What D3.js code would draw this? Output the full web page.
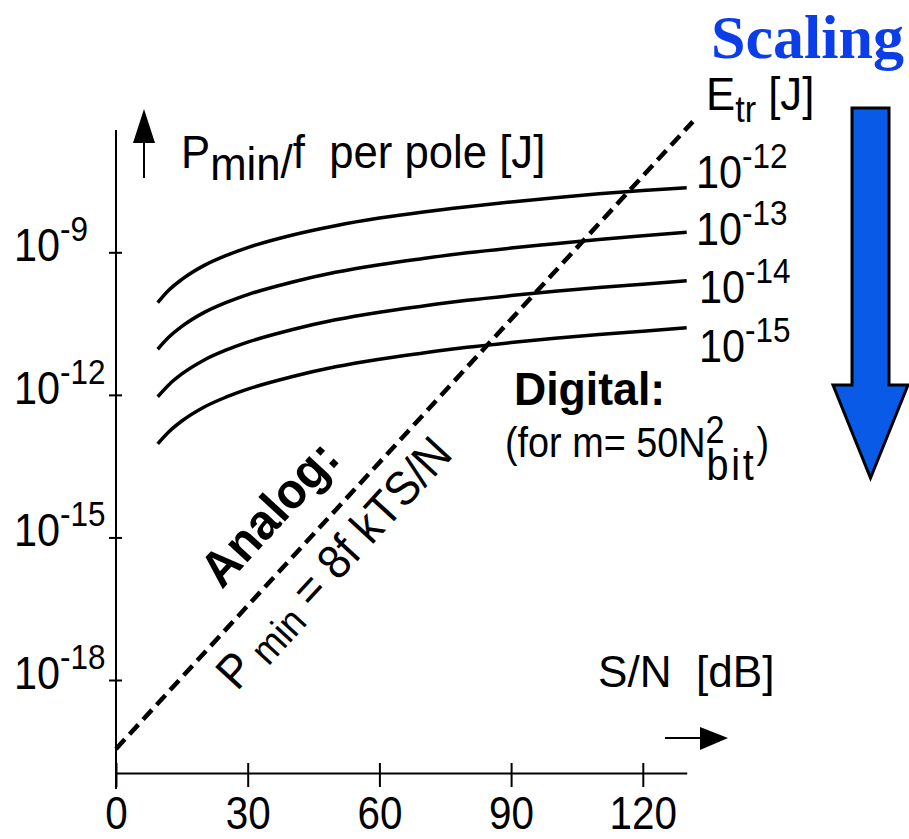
<!DOCTYPE html>
<html><head><meta charset="utf-8">
<script src="https://cdn.jsdelivr.net/npm/d3@7"></script>
<style>
body{margin:0;background:#fff}
text{font-family:"Liberation Sans",Arial,sans-serif;white-space:pre;fill:#000}
</style>
</head><body>
<svg id="c" width="909" height="839"></svg>
<script>
// ---------- data ----------
const snrDb   = [9.5, 12, 15, 20, 25, 30, 40, 50, 60, 70, 80, 90, 100, 110, 120, 130];
// log10 of Pmin/f per pole [J] for each transistor switching energy
const etr1e12 = [-10.06, -9.80, -9.57, -9.28, -9.07, -8.90, -8.64, -8.44, -8.28, -8.15, -8.04, -7.94, -7.85, -7.77, -7.70, -7.64];
const etr1e13 = [-11.04, -10.79, -10.56, -10.27, -10.06, -9.89, -9.63, -9.42, -9.26, -9.13, -9.01, -8.91, -8.82, -8.73, -8.65, -8.58];
const etr1e14 = [-12.04, -11.79, -11.56, -11.27, -11.06, -10.89, -10.63, -10.42, -10.26, -10.13, -10.01, -9.91, -9.82, -9.74, -9.67, -9.60];
const etr1e15 = [-13.03, -12.78, -12.55, -12.26, -12.05, -11.88, -11.62, -11.41, -11.25, -11.12, -11.00, -10.90, -10.81, -10.73, -10.66, -10.59];
const etrExponents = ["-12", "-13", "-14", "-15"];
// analog limit line (log10 J)
const analogDb  = [0, 131.4];
const analogLog = [-19.45, -6.25];
const xTicks = [0, 30, 60, 90, 120];
const yTickExp = [-9, -12, -15, -18];

// ---------- scales ----------
const svg = d3.select("#c");
const x = d3.scaleLinear().domain([0, 130]).range([116, 116 + 130 * 4.39]);
const y = d3.scaleLog().domain([1e-9, 1e-18]).range([252.3, 680]);
const SX = 0.9;

// ---------- axes ----------
const xAxisY = 773;
const gx = svg.append("g").attr("transform", `translate(0,${xAxisY})`)
  .call(d3.axisBottom(x).tickValues(xTicks).tickSizeOuter(0).tickFormat(""));
gx.select(".domain").attr("stroke", "#000").attr("stroke-width", 2);
gx.selectAll(".tick line").attr("y1", -10).attr("y2", 14).attr("stroke", "#000").attr("stroke-width", 2);
gx.selectAll(".tick").append("text")
  .attr("transform", `translate(0,56) scale(0.86,1)`)
  .attr("text-anchor", "middle").style("font-size", "47px").style("fill", "#000")
  .text(d => d);

const gy = svg.append("g").attr("transform", `translate(116,0)`)
  .call(d3.axisLeft(y).tickValues(yTickExp.map(e => Math.pow(10, e))).tickSizeOuter(0).tickFormat(""));
gy.select(".domain").remove();
gy.selectAll(".tick line").attr("x1", 6).attr("x2", -7).attr("stroke", "#000").attr("stroke-width", 2);
svg.append("line").attr("x1", 116).attr("x2", 116).attr("y1", 130).attr("y2", 789)
  .attr("stroke", "#000").attr("stroke-width", 2);

function pow10Label(px, py, exp) {
  const t = svg.append("text").attr("transform", `translate(${px},${py}) scale(${SX},1)`)
    .style("font-size", "46px");
  t.append("tspan").text("10");
  t.append("tspan").attr("dy", -20).style("font-size", "35px").text(exp);
}
yTickExp.forEach(e => pow10Label(14, y(Math.pow(10, e)) + 9, String(e)));

// ---------- analog dashed line ----------
const line = d3.line().x(d => x(d[0])).y(d => y(Math.pow(10, d[1])));
svg.append("path").datum(analogDb.map((d, i) => [d, analogLog[i]]))
  .attr("d", line).attr("fill", "none").attr("stroke", "#000")
  .attr("stroke-width", 4.5).attr("stroke-dasharray", "13,7");

// ---------- digital curves ----------
const curveLine = d3.line().curve(d3.curveMonotoneX).x(d => x(d[0])).y(d => y(Math.pow(10, d[1])));
const series = [etr1e12, etr1e13, etr1e14, etr1e15];
series.forEach(s => {
  svg.append("path").datum(snrDb.map((d, i) => [d, s[i]]))
    .attr("d", curveLine).attr("fill", "none").attr("stroke", "#000").attr("stroke-width", 3.5);
});
const labelBase = [188, 245, 303, 362];
const labelX = [696, 696, 699, 699];
etrExponents.forEach((e, i) => pow10Label(labelX[i], labelBase[i], e));

// E_tr [J]
{
  const t = svg.append("text").attr("transform", `translate(706,110) scale(0.95,1)`).style("font-size", "46px");
  t.append("tspan").text("E");
  t.append("tspan").attr("dy", 12).style("font-size", "36px").text("tr");
  t.append("tspan").attr("dy", -12).text(" [J]");
}

// ---------- y label with arrow ----------
svg.append("line").attr("x1", 144).attr("x2", 144).attr("y1", 178).attr("y2", 140)
  .attr("stroke", "#000").attr("stroke-width", 2);
svg.append("path").attr("d", d3.line()([[144, 109], [155, 143], [133, 143]]) + "Z").attr("fill", "#000");
{
  const t = svg.append("text").attr("transform", `translate(181,168) scale(0.95,1)`).style("font-size", "46px");
  t.append("tspan").text("P");
  t.append("tspan").attr("dy", 12).text("min");
  t.append("tspan").attr("dy", -2).text("/");
  t.append("tspan").attr("dy", -10).text("f  per pole [J]");
}

// ---------- x label with arrow ----------
svg.append("text").attr("transform", `translate(598,687) scale(0.98,1)`).style("font-size", "45px")
  .text("S/N  [dB]");
svg.append("line").attr("x1", 665).attr("x2", 702).attr("y1", 738).attr("y2", 738)
  .attr("stroke", "#000").attr("stroke-width", 2);
svg.append("path").attr("d", d3.line()([[728, 738], [700, 727], [700, 750]]) + "Z").attr("fill", "#000");

// ---------- Analog text ----------
const ang = -47.4;
svg.append("text").attr("transform", `translate(222,590) rotate(${ang}) scale(0.95,1)`)
  .style("font-size", "50px").style("font-weight", "bold").text("Analog:");
{
  const t = svg.append("text").attr("transform", `translate(237,692) rotate(${ang}) scale(0.92,1)`)
    .style("font-size", "48px");
  t.append("tspan").text("P");
  t.append("tspan").attr("dy", 6).style("font-size", "40px").text(" min");
  t.append("tspan").attr("dy", -6).text(" = 8f kTS/N");
}

// ---------- Digital text ----------
svg.append("text").attr("transform", `translate(514,405) scale(0.97,1)`)
  .style("font-size", "46px").style("font-weight", "bold").text("Digital:");
{
  const t = svg.append("text").attr("transform", `translate(505,457) scale(${SX},1)`).style("font-size", "42px");
  t.append("tspan").text("(for m= 50N");
  t.append("tspan").attr("dy", -14).style("font-size", "38px").text("2");
  t.append("tspan").attr("dx", -20).attr("dy", 37).style("font-size", "44px").style("letter-spacing", "3px").text("bit");
  t.append("tspan").attr("dx", 0).attr("dy", -23).style("letter-spacing", "0px").text(")");
}

// ---------- Scaling ----------
svg.append("text").attr("x", 711).attr("y", 58)
  .style("font-family", '"Liberation Serif","Times New Roman",serif')
  .style("font-weight", "bold").style("font-size", "62px").style("fill", "#0b3de8")
  .text("Scaling");
svg.append("path")
  .attr("d", d3.line()([[852, 108], [889, 108], [889, 385], [908, 385], [870.5, 478], [833, 385], [852, 385]]) + "Z")
  .attr("fill", "#0a5ae8").attr("stroke", "#000").attr("stroke-width", 3).attr("stroke-linejoin", "miter");
</script>
</body></html>
